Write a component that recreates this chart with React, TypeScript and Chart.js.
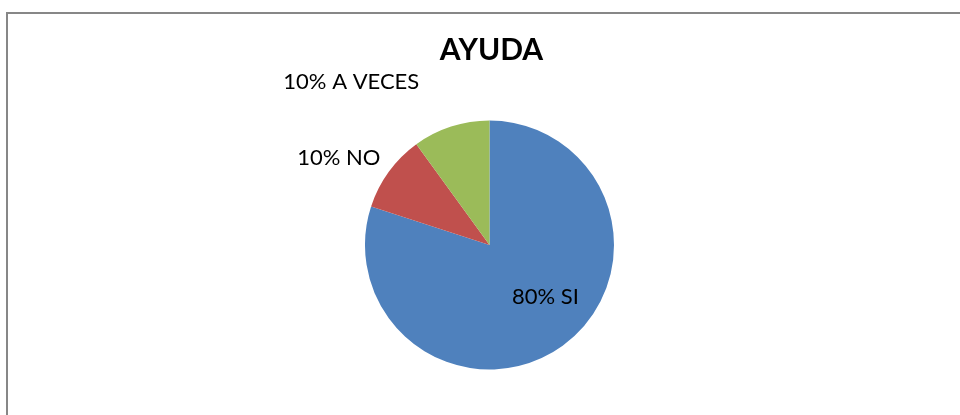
import React, { useEffect, useRef } from "react";
import { Chart, registerables } from "chart.js";

Chart.register(...registerables);

const TITLE = "AYUDA";
const CATEGORIES = ["SI", "NO", "A VECES"];
const VALUES = [80, 10, 10];
const COLORS = ["#4F81BD", "#C0504D", "#9BBB59"];
// label anchor offsets relative to pie center, in units of radius
const LABEL_OFFSETS = [
  [0.45, 0.42],
  [-1.21, -0.7],
  [-1.11, -1.31],
];

const FONT = "Lato, 'Open Sans', sans-serif";

export default function App() {
  const ref = useRef<HTMLCanvasElement | null>(null);

  useEffect(() => {
    document.body.style.margin = "0";
    const canvas = ref.current;
    if (!canvas) return;

    const labelPlugin = {
      id: "labelPlugin",
      afterDatasetsDraw(chart: any) {
        const ctx = chart.ctx;
        const meta = chart.getDatasetMeta(0);
        const total = VALUES.reduce((a, b) => a + b, 0);
        ctx.save();
        // title
        ctx.fillStyle = "#000";
        ctx.font = `bold 30px ${FONT}`;
        ctx.textAlign = "center";
        ctx.textBaseline = "middle";
        const first = meta.data[0];
        ctx.fillText(TITLE, first.x + 2, 50);
        ctx.font = `22px ${FONT}`;
        meta.data.forEach((arc: any, i: number) => {
          const r = arc.outerRadius;
          const x = arc.x + LABEL_OFFSETS[i][0] * r;
          const y = arc.y + LABEL_OFFSETS[i][1] * r;
          const pct = Math.round((VALUES[i] / total) * 100);
          ctx.fillText(`${pct}% ${CATEGORIES[i]}`, x, y);
        });
        ctx.restore();
      },
    };

    const chart = new Chart(canvas, {
      type: "pie",
      data: {
        labels: CATEGORIES,
        datasets: [
          {
            data: VALUES,
            backgroundColor: COLORS,
            borderWidth: 0,
          },
        ],
      },
      options: {
        responsive: false,
        animation: false,
        layout: { padding: { top: 120.5, bottom: 45.5, left: 19, right: 0 } },
        plugins: {
          legend: { display: false },
          title: { display: false },
          tooltip: { enabled: false },
        },
      },
      plugins: [labelPlugin],
    });
    return () => chart.destroy();
  }, []);

  return (
    <div style={{ position: "relative", width: 960, height: 415, overflow: "hidden", background: "#fff" }}>
      <div
        style={{
          position: "absolute",
          left: 6,
          top: 12,
          width: 1000,
          height: 500,
          borderTop: "2px solid #878787",
          borderLeft: "2px solid #878787",
          boxSizing: "border-box",
        }}
      />
      <canvas ref={ref} width={960} height={415} style={{ position: "absolute", left: 0, top: 0 }} />
    </div>
  );
}
